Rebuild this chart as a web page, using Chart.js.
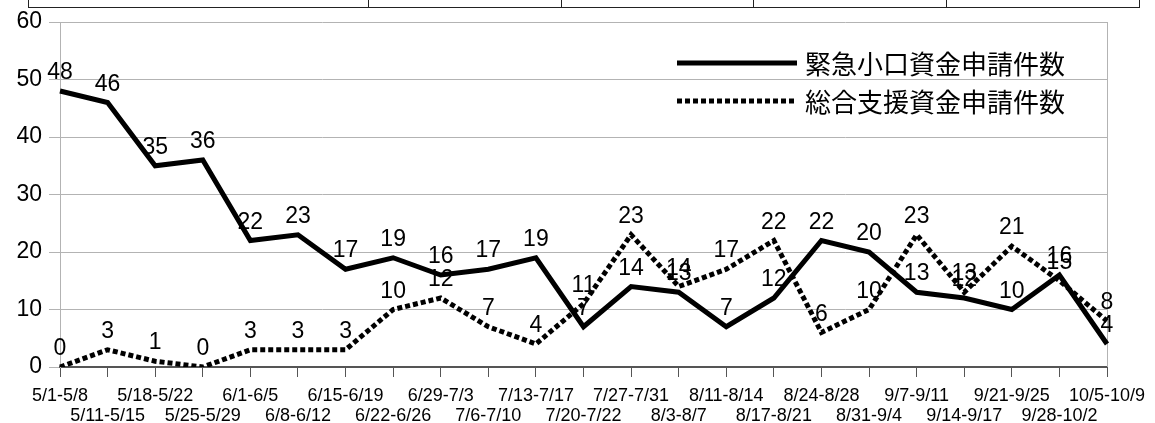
<!DOCTYPE html>
<html>
<head>
<meta charset="utf-8">
<script src="https://cdn.jsdelivr.net/npm/chart.js@4"></script>
<style>
  html, body { margin: 0; padding: 0; background: #fff; }
  #wrap { position: relative; width: 1155px; height: 423px; overflow: hidden; }
  #strip { position: absolute; top: -2px; left: 28px; height: 9px; display: flex; border: 1px solid #222; border-top: none; }
  #strip div { height: 100%; border-right: 1px solid #222; box-sizing: border-box; }
  #strip div:last-child { border-right: none; }
  canvas { position: absolute; left: 0; top: 0; }
</style>
</head>
<body>
<div id="wrap">
  <canvas id="chart" width="1155" height="423"></canvas>
  <div id="strip">
    <div style="width:340px"></div>
    <div style="width:193px"></div>
    <div style="width:192px"></div>
    <div style="width:193px"></div>
    <div style="width:192px"></div>
  </div>
</div>
<script>
// 週ごとの区間
const weeks = [
  '5/1-5/8', '5/11-5/15', '5/18-5/22', '5/25-5/29', '6/1-6/5', '6/8-6/12',
  '6/15-6/19', '6/22-6/26', '6/29-7/3', '7/6-7/10', '7/13-7/17', '7/20-7/22',
  '7/27-7/31', '8/3-8/7', '8/11-8/14', '8/17-8/21', '8/24-8/28', '8/31-9/4',
  '9/7-9/11', '9/14-9/17', '9/21-9/25', '9/28-10/2', '10/5-10/9'
];
const seriesNames = ['緊急小口資金申請件数', '総合支援資金申請件数'];
const kinkyu = [48, 46, 35, 36, 22, 23, 17, 19, 16, 17, 19, 7, 14, 13, 7, 12, 22, 20, 13, 12, 10, 16, 4];
const sogo = [0, 3, 1, 0, 3, 3, 3, 10, 12, 7, 4, 11, 23, 14, 17, 22, 6, 10, 23, 13, 21, 15, 8];
const yTicks = [0, 10, 20, 30, 40, 50, 60];

const LATIN = "'Liberation Sans', Arial, sans-serif";
const CJK = "'Noto Sans CJK JP', 'Liberation Sans', sans-serif";
const GRID = '#b3b3b3';

// 偶数番目は上段、奇数番目は下段に表示
const stagger = weeks.map((w, i) => i % 2 === 0 ? [w, ''] : ['', w]);

const valueLabels = {
    id: 'valueLabels',
    afterDatasetsDraw(chart) {
        const ctx = chart.ctx;
        ctx.save();
        ctx.font = '23px ' + LATIN;
        ctx.fillStyle = '#000';
        ctx.textAlign = 'center';
        ctx.textBaseline = 'alphabetic';
        chart.data.datasets.forEach((ds, di) => {
            const meta = chart.getDatasetMeta(di);
            meta.data.forEach((pt, i) => {
                ctx.fillText(String(ds.data[i]), pt.x, pt.y - 12);
            });
        });
        ctx.restore();
    }
};

const plotFrame = {
    id: 'plotFrame',
    beforeDatasetsDraw(chart) {
        const a = chart.chartArea;
        const ctx = chart.ctx;
        ctx.save();
        ctx.strokeStyle = GRID;
        ctx.lineWidth = 1;
        ctx.beginPath();
        ctx.moveTo(Math.round(a.right) + 0.5, a.top);
        ctx.lineTo(Math.round(a.right) + 0.5, a.bottom);
        ctx.stroke();
        ctx.restore();
    }
};

const innerLegend = {
    id: 'innerLegend',
    afterDraw(chart) {
        const a = chart.chartArea;
        const ctx = chart.ctx;
        const x0 = a.right - 430, x1 = a.right - 310, tx = a.right - 302;
        const rows = [a.top + 41, a.top + 79];
        ctx.save();
        chart.data.datasets.forEach((ds, i) => {
            const y = rows[i];
            ctx.strokeStyle = ds.borderColor;
            ctx.lineWidth = ds.borderWidth;
            ctx.setLineDash(ds.borderDash || []);
            ctx.beginPath();
            ctx.moveTo(x0, y);
            ctx.lineTo(x1, y);
            ctx.stroke();
            ctx.setLineDash([]);
            ctx.font = '26px ' + CJK;
            ctx.fillStyle = '#000';
            ctx.textAlign = 'left';
            ctx.textBaseline = 'middle';
            ctx.fillText(ds.label, tx, y + 1);
        });
        ctx.restore();
    }
};

new Chart(document.getElementById('chart'), {
    type: 'line',
    data: {
        labels: stagger,
        datasets: [
            {
                label: seriesNames[0],
                data: kinkyu,
                borderColor: '#000',
                borderWidth: 5,
                borderJoinStyle: 'miter',
                pointRadius: 0,
                tension: 0,
                fill: false
            },
            {
                label: seriesNames[1],
                data: sogo,
                borderColor: '#000',
                borderWidth: 5,
                borderDash: [5, 3],
                borderJoinStyle: 'miter',
                pointRadius: 0,
                tension: 0,
                fill: false
            }
        ]
    },
    options: {
        responsive: false,
        animation: false,
        layout: { padding: { top: 22, right: 48, left: 0, bottom: 0 } },
        plugins: {
            legend: { display: false },
            tooltip: { enabled: false }
        },
        scales: {
            x: {
                grid: { drawOnChartArea: false, color: '#555', tickLength: 10, lineWidth: 1 },
                border: { color: '#555', width: 2 },
                ticks: {
                    autoSkip: false,
                    maxRotation: 0,
                    minRotation: 0,
                    padding: 9,
                    color: '#000',
                    font: { family: LATIN, size: 18, lineHeight: 1.1111 }
                },
                afterFit(scale) { scale.height = 56; }
            },
            y: {
                min: 0,
                max: 60,
                afterBuildTicks(scale) { scale.ticks = yTicks.map(v => ({ value: v })); },
                grid: { color: GRID, tickLength: 11, lineWidth: 1 },
                border: { color: GRID, width: 1 },
                ticks: {
                    padding: 7,
                    color: '#000',
                    font: { family: LATIN, size: 23 }
                },
                afterFit(scale) { scale.width = 60; }
            }
        }
    },
    plugins: [plotFrame, valueLabels, innerLegend]
});
</script>
</body>
</html>
